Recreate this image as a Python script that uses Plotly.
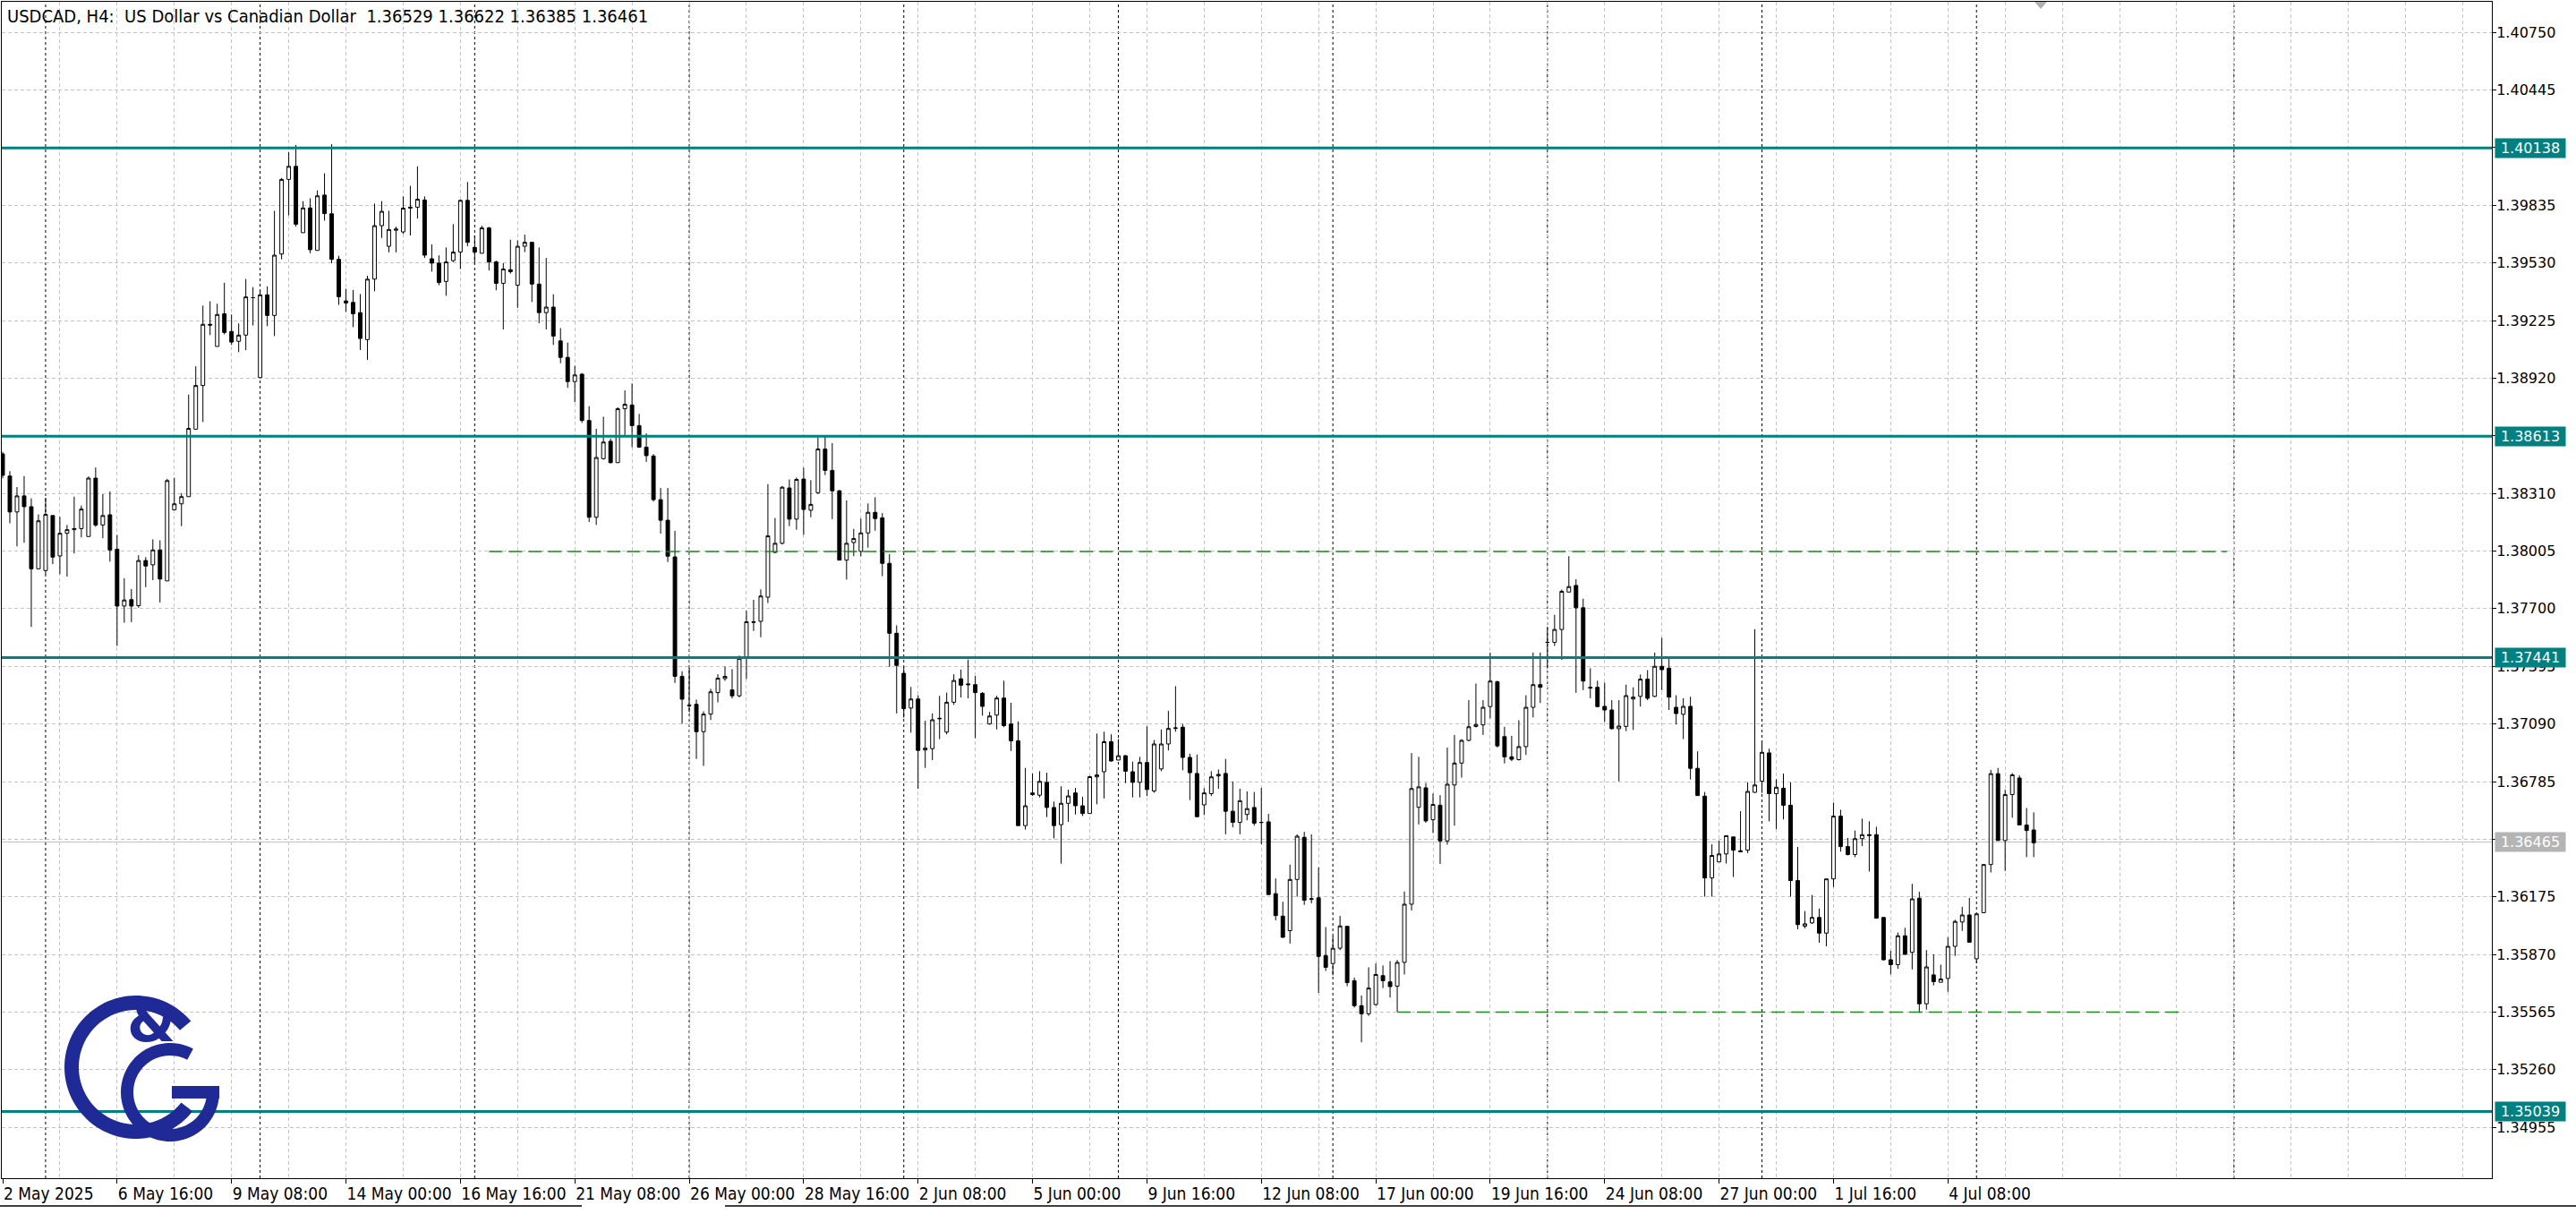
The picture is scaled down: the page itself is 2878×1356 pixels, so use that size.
import plotly.graph_objects as go
import numpy as np

# ---------------- data ----------------
opens = [1.38519,1.38402,1.38212,1.38297,1.38240,1.37911,1.37902,1.38193,1.37979,1.38099,
1.38118,1.38124,1.38082,1.38391,1.38143,1.38197,1.38015,1.37714,1.37748,1.37716,
1.37955,1.37932,1.38011,1.37847,1.38223,1.38255,1.38293,1.38650,1.38881,1.39205,
1.39088,1.39261,1.39167,1.39115,1.39148,1.39346,1.38923,1.39361,1.39252,1.39577,
1.39972,1.40041,1.39690,1.39821,1.39596,1.39889,1.39790,1.39549,1.39329,1.39321,
1.39267,1.39124,1.39444,1.39727,1.39618,1.39703,1.39694,1.39820,1.39825,1.39863,
1.39552,1.39529,1.39432,1.39542,1.39587,1.39861,1.39612,1.39581,1.39715,1.39535,
1.39422,1.39494,1.39412,1.39618,1.39639,1.39418,1.39267,1.39296,1.39117,1.39030,
1.38902,1.38941,1.38696,1.38184,1.38494,1.38586,1.38473,1.38758,1.38778,1.38669,
1.38555,1.38508,1.38277,1.38168,1.37974,1.37342,1.37190,1.37194,1.37049,1.37142,
1.37256,1.37330,1.37270,1.37239,1.37441,1.37627,1.37633,1.37761,1.37998,1.38046,
1.38339,1.38174,1.38386,1.38221,1.38314,1.38545,1.38432,1.38324,1.37957,1.38050,
1.38003,1.38101,1.38210,1.38181,1.37940,1.37570,1.37358,1.37174,1.37222,1.36952,
1.36959,1.37120,1.37047,1.37205,1.37329,1.37302,1.37298,1.37252,1.37090,1.37137,
1.37227,1.37090,1.37001,1.36552,1.36716,1.36713,1.36781,1.36648,1.36557,1.36670,
1.36725,1.36657,1.36616,1.36810,1.36837,1.36996,1.36899,1.36922,1.36837,1.36781,
1.36886,1.36735,1.36852,1.36984,1.37066,1.37073,1.36913,1.36828,1.36662,1.36721,
1.36815,1.36828,1.36628,1.36569,1.36611,1.36648,1.36569,1.36572,1.36192,1.36073,
1.35996,1.36267,1.36490,1.36161,1.36170,1.35864,1.35822,1.35903,1.36019,1.35731,
1.35599,1.35556,1.35605,1.35758,1.35725,1.35702,1.35828,1.36136,1.36649,1.36752,
1.36583,1.36660,1.36471,1.36767,1.36883,1.37003,1.37077,1.37085,1.37182,1.37313,
1.37023,1.36916,1.36901,1.36970,1.37178,1.37298,1.37522,1.37522,1.37590,1.37788,
1.37823,1.37705,1.37284,1.37284,1.37183,1.37164,1.37065,1.37077,1.37222,1.37236,
1.37327,1.37236,1.37395,1.37385,1.37178,1.37141,1.37183,1.36855,1.36708,1.36275,
1.36360,1.36402,1.36492,1.36419,1.36422,1.36728,1.36787,1.36937,1.36721,1.36750,
1.36660,1.36261,1.36020,1.36037,1.36066,1.35983,1.36270,1.36602,1.36441,1.36399,
1.36483,1.36504,1.36504,1.36066,1.35842,1.35816,1.35969,1.35881,1.36168,1.35609,
1.35762,1.35723,1.35743,1.35913,1.36042,1.36079,1.35847,1.36091,1.36346,1.36827,
1.36473,1.36716,1.36804,1.36555,1.36529]

highs = [1.38530,1.38428,1.38344,1.38402,1.38284,1.38199,1.38287,1.38193,1.38186,1.38143,
1.38293,1.38246,1.38400,1.38447,1.38306,1.38321,1.38090,1.37861,1.37804,1.37983,
1.37973,1.38067,1.38062,1.38387,1.38393,1.38312,1.38833,1.38983,1.39304,1.39327,
1.39314,1.39425,1.39257,1.39210,1.39445,1.39402,1.39383,1.39406,1.39806,1.39979,
1.40117,1.40154,1.39857,1.39872,1.39914,1.40004,1.40158,1.39568,1.39393,1.39387,
1.39365,1.39462,1.39844,1.39857,1.39806,1.39722,1.39882,1.39938,1.40041,1.39882,
1.39628,1.39570,1.39612,1.39735,1.39865,1.39958,1.39676,1.39727,1.39721,1.39542,
1.39529,1.39653,1.39649,1.39680,1.39639,1.39612,1.39556,1.39364,1.39185,1.39108,
1.38985,1.38947,1.38772,1.38652,1.38716,1.38601,1.38766,1.38855,1.38892,1.38731,
1.38628,1.38518,1.38339,1.38339,1.38112,1.37369,1.37390,1.37219,1.37157,1.37276,
1.37353,1.37394,1.37380,1.37452,1.37689,1.37747,1.37802,1.38359,1.38180,1.38349,
1.38384,1.38394,1.38446,1.38380,1.38607,1.38613,1.38576,1.38328,1.38273,1.38122,
1.38177,1.38257,1.38290,1.38206,1.37989,1.37612,1.37392,1.37286,1.37242,1.37107,
1.37146,1.37239,1.37256,1.37353,1.37378,1.37431,1.37344,1.37259,1.37154,1.37239,
1.37319,1.37202,1.37103,1.36857,1.36828,1.36840,1.36832,1.36679,1.36760,1.36742,
1.36752,1.36704,1.36815,1.37039,1.37049,1.37035,1.37010,1.36925,1.36891,1.36916,
1.37078,1.37005,1.37061,1.37159,1.37290,1.37090,1.36933,1.36928,1.36750,1.36840,
1.36849,1.36905,1.36786,1.36747,1.36733,1.36730,1.36752,1.36614,1.36272,1.36149,
1.36345,1.36506,1.36519,1.36506,1.36331,1.36015,1.35967,1.36074,1.36019,1.35748,
1.35653,1.35802,1.35822,1.35812,1.35835,1.35841,1.36203,1.36936,1.36916,1.36777,
1.36722,1.36713,1.36965,1.37032,1.37009,1.37216,1.37304,1.37216,1.37468,1.37319,
1.37075,1.37027,1.37110,1.37242,1.37468,1.37468,1.37604,1.37668,1.37801,1.37978,
1.37856,1.37753,1.37385,1.37319,1.37309,1.37216,1.37216,1.37298,1.37284,1.37352,
1.37375,1.37468,1.37546,1.37435,1.37242,1.37226,1.37234,1.36945,1.36730,1.36453,
1.36473,1.36499,1.36492,1.36628,1.36781,1.37591,1.37000,1.36959,1.36798,1.36827,
1.36781,1.36439,1.36100,1.36185,1.36113,1.36270,1.36674,1.36636,1.36487,1.36526,
1.36589,1.36575,1.36546,1.36066,1.35889,1.35986,1.36011,1.36244,1.36202,1.35893,
1.35871,1.35816,1.35961,1.36054,1.36122,1.36169,1.36085,1.36346,1.36847,1.36857,
1.36742,1.36830,1.36818,1.36645,1.36622]

lows = [1.38390,1.38152,1.38030,1.38049,1.37603,1.37911,1.37883,1.37936,1.37883,1.37870,
1.37992,1.38077,1.38082,1.38133,1.38073,1.37949,1.37503,1.37626,1.37629,1.37705,
1.37814,1.37851,1.37733,1.37847,1.38223,1.38137,1.38293,1.38650,1.38688,1.39148,
1.39088,1.39152,1.39096,1.39058,1.39068,1.39199,1.38923,1.39195,1.39143,1.39549,
1.39782,1.39722,1.39690,1.39581,1.39596,1.39754,1.39528,1.39308,1.39271,1.39190,
1.39069,1.39017,1.39380,1.39662,1.39586,1.39586,1.39684,1.39675,1.39765,1.39556,
1.39484,1.39412,1.39356,1.39535,1.39498,1.39618,1.39525,1.39581,1.39490,1.39385,
1.39178,1.39473,1.39292,1.39587,1.39323,1.39211,1.39178,1.39096,1.38999,1.38869,
1.38793,1.38683,1.38159,1.38143,1.38489,1.38469,1.38473,1.38613,1.38555,1.38551,
1.38477,1.38267,1.38097,1.37947,1.37307,1.37091,1.37153,1.36905,1.36868,1.37111,
1.37204,1.37318,1.37225,1.37231,1.37328,1.37582,1.37549,1.37730,1.37994,1.38040,
1.38137,1.38118,1.38091,1.38184,1.38308,1.38407,1.38174,1.37957,1.37854,1.37978,
1.37977,1.38023,1.38113,1.37872,1.37392,1.37146,1.37123,1.37044,1.36747,1.36857,
1.36899,1.37010,1.37035,1.37191,1.37230,1.37225,1.37015,1.37134,1.37086,1.37061,
1.37073,1.36947,1.36552,1.36531,1.36709,1.36701,1.36597,1.36484,1.36351,1.36572,
1.36611,1.36603,1.36616,1.36665,1.36696,1.36891,1.36899,1.36777,1.36701,1.36701,
1.36708,1.36726,1.36840,1.36950,1.37049,1.36845,1.36687,1.36599,1.36608,1.36709,
1.36747,1.36506,1.36543,1.36506,1.36580,1.36552,1.36453,1.36187,1.36051,1.35958,
1.35928,1.36176,1.36132,1.36141,1.35667,1.35783,1.35760,1.35893,1.35702,1.35589,
1.35405,1.35545,1.35599,1.35692,1.35642,1.35566,1.35764,1.36103,1.36558,1.36567,
1.36513,1.36349,1.36451,1.36552,1.36806,1.36998,1.37071,1.37032,1.37120,1.36965,
1.36881,1.36893,1.36897,1.36926,1.37125,1.37201,1.37385,1.37503,1.37429,1.37788,
1.37255,1.37269,1.37226,1.37178,1.37100,1.37061,1.36786,1.37052,1.37058,1.37182,
1.37216,1.37232,1.37269,1.37164,1.37087,1.37010,1.36796,1.36711,1.36176,1.36176,
1.36360,1.36351,1.36280,1.36410,1.36407,1.36725,1.36725,1.36575,1.36534,1.36585,
1.36176,1.36003,1.36008,1.36032,1.35932,1.35913,1.36227,1.36414,1.36394,1.36385,
1.36444,1.36309,1.36059,1.35838,1.35765,1.35794,1.35867,1.35791,1.35561,1.35578,
1.35706,1.35723,1.35672,1.35862,1.35995,1.35935,1.35825,1.36088,1.36304,1.36473,
1.36312,1.36594,1.36555,1.36385,1.36385]

closes = [1.38406,1.38212,1.38297,1.38240,1.37911,1.38165,1.38199,1.37973,1.38099,1.38118,
1.38124,1.38227,1.38391,1.38143,1.38193,1.38011,1.37714,1.37746,1.37714,1.37955,
1.37926,1.38011,1.37857,1.38378,1.38255,1.38293,1.38654,1.38881,1.39205,1.39201,
1.39257,1.39162,1.39111,1.39148,1.39350,1.39346,1.39361,1.39252,1.39571,1.39972,
1.40041,1.39735,1.39821,1.39600,1.39885,1.39791,1.39549,1.39351,1.39318,1.39261,
1.39130,1.39444,1.39727,1.39803,1.39707,1.39709,1.39820,1.39825,1.39867,1.39571,
1.39529,1.39426,1.39535,1.39587,1.39861,1.39639,1.39587,1.39715,1.39535,1.39422,
1.39498,1.39484,1.39618,1.39639,1.39418,1.39267,1.39296,1.39143,1.39030,1.38902,
1.38937,1.38696,1.38184,1.38500,1.38582,1.38473,1.38758,1.38782,1.38669,1.38555,
1.38510,1.38277,1.38168,1.37978,1.37342,1.37221,1.37186,1.37049,1.37142,1.37260,
1.37332,1.37342,1.37239,1.37437,1.37631,1.37631,1.37767,1.38085,1.38046,1.38343,
1.38174,1.38384,1.38225,1.38252,1.38545,1.38432,1.38324,1.37957,1.38046,1.38071,
1.38101,1.38210,1.38177,1.37940,1.37570,1.37400,1.37171,1.37222,1.36950,1.36962,
1.37112,1.37118,1.37205,1.37320,1.37295,1.37298,1.37256,1.37183,1.37132,1.37227,
1.37081,1.37001,1.36552,1.36657,1.36725,1.36786,1.36648,1.36552,1.36670,1.36709,
1.36657,1.36616,1.36811,1.36820,1.36996,1.36894,1.36922,1.36840,1.36781,1.36886,
1.36743,1.36984,1.36984,1.37066,1.37069,1.36913,1.36832,1.36599,1.36725,1.36810,
1.36823,1.36628,1.36569,1.36684,1.36642,1.36565,1.36569,1.36187,1.36076,1.35961,
1.36267,1.36496,1.36157,1.36165,1.35860,1.35802,1.35903,1.36021,1.35721,1.35599,
1.35556,1.35692,1.35764,1.35731,1.35700,1.35828,1.36136,1.36748,1.36757,1.36577,
1.36664,1.36471,1.36771,1.36883,1.37003,1.37075,1.37087,1.37178,1.37317,1.36974,
1.36916,1.36903,1.36970,1.37178,1.37298,1.37284,1.37522,1.37590,1.37792,1.37817,
1.37705,1.37317,1.37280,1.37182,1.37164,1.37065,1.37079,1.37240,1.37232,1.37327,
1.37226,1.37395,1.37377,1.37232,1.37145,1.37183,1.36855,1.36711,1.36275,1.36394,
1.36402,1.36499,1.36422,1.36414,1.36733,1.36767,1.36940,1.36721,1.36755,1.36660,
1.36261,1.36028,1.36032,1.36066,1.35983,1.36270,1.36602,1.36441,1.36399,1.36483,
1.36504,1.36500,1.36062,1.35842,1.35816,1.35969,1.35871,1.36164,1.35609,1.35804,
1.35726,1.35740,1.35913,1.36045,1.36079,1.35935,1.36085,1.36346,1.36827,1.36473,
1.36716,1.36821,1.36555,1.36526,1.36461]

bar_index = list(range(len(opens)))

x_tick_bars = [0, 16, 32, 48, 64, 80, 96, 112, 128, 144, 160, 176, 192, 208, 224, 240, 256, 272]
x_tick_labels = ["2 May 2025", "6 May 16:00", "9 May 08:00", "14 May 00:00", "16 May 16:00",
                 "21 May 08:00", "26 May 00:00", "28 May 16:00", "2 Jun 08:00", "5 Jun 00:00",
                 "9 Jun 16:00", "12 Jun 08:00", "17 Jun 00:00", "19 Jun 16:00", "24 Jun 08:00",
                 "27 Jun 00:00", "1 Jul 16:00", "4 Jul 08:00"]

level_prices = [1.40138, 1.38613, 1.37441, 1.35039]
current_price = 1.36465
week_separator_bars = [6, 36, 66, 96, 126, 156, 186, 216, 246, 276, 312]

upper_dash_bars = [68, 311]
upper_dash_price = [1.38003, 1.38003]
lower_dash_bars = [195, 305]
lower_dash_price = [1.35565, 1.35565]

title_text = ("USDCAD, H4:\u00a0\u00a0US Dollar vs Canadian Dollar\u00a0\u00a0"
              "1.36529 1.36622 1.36385 1.36461")

# ---------------- styling ----------------
W, H = 2878, 1356
ML, MR, MT, MB = 2, 94, 2, 40
PW, PH = W - ML - MR, H - MT - MB
TEAL = "#008080"
GRID = "#c4c4c4"
NAVY = "#1f2a96"
NARROW = "DejaVu Sans Condensed, Liberation Sans, Arial, sans-serif"
WIDE = "DejaVu Sans, Verdana, sans-serif"

def px2paper(px, py):
    return (px - ML) / PW, (MT + PH - py) / PH

fig = go.Figure()

fig.add_trace(go.Candlestick(
    x=bar_index, open=opens, high=highs, low=lows, close=closes,
    increasing=dict(line=dict(color="black", width=1), fillcolor="white"),
    decreasing=dict(line=dict(color="black", width=1), fillcolor="black"),
    whiskerwidth=0, hoverinfo="skip", showlegend=False))

for xs, ys in [(upper_dash_bars, upper_dash_price), (lower_dash_bars, lower_dash_price)]:
    fig.add_trace(go.Scatter(x=xs, y=ys, mode="lines",
                             line=dict(color="#1a8a1a", width=1.5, dash="15px,7px"),
                             hoverinfo="skip", showlegend=False))

shapes = []
for b in week_separator_bars:
    shapes.append(dict(type="line", xref="x", yref="paper", x0=b, x1=b, y0=0, y1=1,
                       line=dict(color="black", width=1, dash="3px,3px"), layer="below"))
shapes.append(dict(type="line", xref="paper", yref="y", x0=0, x1=1,
                   y0=current_price, y1=current_price,
                   line=dict(color="#c0c0c0", width=1), layer="below"))
for lv in level_prices:
    shapes.append(dict(type="line", xref="paper", yref="y", x0=0, x1=1, y0=lv, y1=lv,
                       line=dict(color=TEAL, width=3), layer="above"))

# small grey shift marker at the top
tri = [px2paper(2273, 2), px2paper(2287, 2), px2paper(2280, 10)]
shapes.append(dict(type="path", xref="paper", yref="paper",
                   path="M{},{} L{},{} L{},{} Z".format(tri[0][0], tri[0][1], tri[1][0], tri[1][1], tri[2][0], tri[2][1]),
                   fillcolor="#b0b0b0", line=dict(width=0)))

# bottom window line
for xa, xb in [(0, 650), (810, W)]:
    p0 = px2paper(xa, 1347)
    p1 = px2paper(xb, 1347)
    shapes.append(dict(type="line", xref="paper", yref="paper", x0=p0[0], x1=p1[0], y0=p0[1], y1=p1[1],
                       line=dict(color="black", width=1.5)))

# logo: ring shapes (C, G) with an ampersand
def ring(cx, cy, ro, ri, a0, a1, n=90):
    a = np.radians(np.linspace(a0, a1, n))
    outer = [px2paper(cx + ro * np.cos(t), cy - ro * np.sin(t)) for t in a]
    inner = [px2paper(cx + ri * np.cos(t), cy - ri * np.sin(t)) for t in a[::-1]]
    pts = outer + inner
    return "M" + " L".join("{:.6f},{:.6f}".format(x, y) for x, y in pts) + " Z"

def rect(xa, ya, xb, yb):
    pts = [px2paper(xa, ya), px2paper(xb, ya), px2paper(xb, yb), px2paper(xa, yb)]
    return "M" + " L".join("{:.6f},{:.6f}".format(x, y) for x, y in pts) + " Z"

shapes.append(dict(type="path", xref="paper", yref="paper", path=ring(152, 1192, 80, 64, 40, 322),
                   fillcolor=NAVY, line=dict(width=0)))
shapes.append(dict(type="path", xref="paper", yref="paper", path=ring(190, 1220, 55, 41, 62, 360),
                   fillcolor=NAVY, line=dict(width=0)))
shapes.append(dict(type="path", xref="paper", yref="paper", path=rect(192, 1213, 245, 1227),
                   fillcolor=NAVY, line=dict(width=0)))

annotations = []
annotations.append(dict(text="<b>&amp;</b>", x=px2paper(140, 1180)[0], y=px2paper(140, 1180)[1],
                        xref="paper", yref="paper", showarrow=False,
                        font=dict(family="DejaVu Sans", size=62, color=NAVY)))
annotations.append(dict(text=title_text, x=0, y=1, xref="paper", yref="paper",
                        xanchor="left", yanchor="top", xshift=4, yshift=-2, showarrow=False,
                        font=dict(family=NARROW, size=20, color="black")))
for lv in level_prices:
    annotations.append(dict(text="{:.5f}".format(lv), x=1, y=lv, xref="paper", yref="y",
                            xanchor="left", yanchor="middle", xshift=3, showarrow=False,
                            bgcolor=TEAL, width=76, height=19,
                            font=dict(family=WIDE, size=16, color="white")))
annotations.append(dict(text="{:.5f}".format(current_price), x=1, y=current_price,
                        xref="paper", yref="y", xanchor="left", yanchor="middle", xshift=3,
                        showarrow=False, bgcolor="#b4b4b4", width=76, height=19,
                        font=dict(family=WIDE, size=16, color="white")))

px_per_bar = 7.99
x0 = -0.125
fig.update_layout(
    width=W, height=H, margin=dict(l=ML, r=MR, t=MT, b=MB),
    paper_bgcolor="white", plot_bgcolor="white", showlegend=False,
    shapes=shapes, annotations=annotations,
    xaxis=dict(range=[x0, x0 + PW / px_per_bar], rangeslider=dict(visible=False),
               tickmode="array", tickvals=x_tick_bars, ticktext=x_tick_labels,
               ticks="outside", ticklen=5, tickcolor="black", ticklabelposition="outside right",
               tickfont=dict(family=NARROW, size=19, color="black"),
               showgrid=True, gridcolor=GRID, griddash="4px,3px", gridwidth=1,
               minor=dict(tickmode="linear", tick0=0, dtick=8, showgrid=True,
                          gridcolor=GRID, griddash="4px,3px", gridwidth=1, ticks=""),
               showline=True, linecolor="black", linewidth=1, mirror=True, zeroline=False),
    yaxis=dict(range=[1.34686, 1.40912], side="right", tickmode="linear",
               tick0=1.40750, dtick=0.00305, tickformat=".5f",
               ticks="outside", ticklen=4, tickcolor="black", ticklabelstandoff=-3,
               tickfont=dict(family=WIDE, size=16, color="black"),
               showgrid=True, gridcolor=GRID, griddash="4px,3px", gridwidth=1,
               showline=True, linecolor="black", linewidth=1, mirror=True, zeroline=False),
)

fig.write_html("out.html", config={"displayModeBar": False},
               post_script="document.body.style.margin='0';document.body.style.overflow='hidden';")
